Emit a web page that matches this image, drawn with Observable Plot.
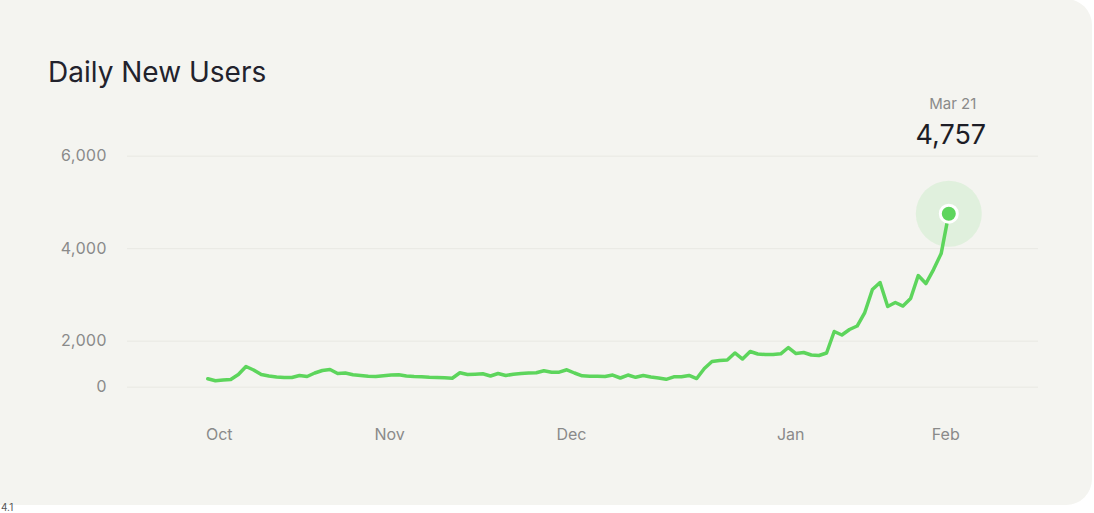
<!DOCTYPE html>
<html><head><meta charset="utf-8">
<script src="https://cdn.jsdelivr.net/npm/d3@7"></script>
<script src="https://cdn.jsdelivr.net/npm/@observablehq/plot@0.6"></script>
<style>
html,body{margin:0;padding:0;background:#fff;width:1094px;height:513px;overflow:hidden;font-family:Inter,"Noto Sans",sans-serif;}
#card{position:absolute;left:-30px;top:-1px;width:1122px;height:506px;background:#f4f4f0;border-radius:26px;}
#title{position:absolute;left:48px;top:58px;font-size:28px;line-height:28px;color:#22222c;font-weight:400;white-space:nowrap;}
#chart{position:absolute;left:0;top:90px;}
#foot{position:absolute;left:1px;top:502px;font-size:10px;line-height:10px;color:#555;}
</style></head><body>
<div id="card"></div>
<div id="title">Daily New Users</div>
<div id="chart"></div>
<div id="foot">4.1</div>
<script>
// Daily new users (one value per point)
const dailyNewUsers = [
  365, 278, 313, 335, 552, 900, 748, 552, 487, 443,
  422, 422, 509, 465, 617, 726, 770, 596, 617, 539,
  509, 474, 465, 496, 530, 539, 487, 465, 457, 435,
  422, 409, 391, 626, 552, 565, 583, 487, 596, 509,
  565, 596, 617, 626, 713, 652, 652, 757, 617, 496,
  478, 474, 465, 530, 400, 530, 430, 509, 443, 400,
  343, 452, 452, 509, 378, 813, 1117, 1161, 1183, 1487,
  1226, 1552, 1444, 1422, 1422, 1452, 1726, 1465, 1509, 1400,
  1378, 1487, 2210, 2134, 2253, 2328, 2620, 3117, 3268, 2750,
  2836, 2760, 2922, 3419, 3246, 3549, 3894, 4757
];
const yTicks = [0, 2000, 4000, 6000];
const monthLabels = ["Oct", "Nov", "Dec", "Jan", "Feb"];
const monthIndex = [1.5, 23.8, 47.6, 76.3, 96.6];
const lastDateLabel = "Mar 21";

const lastIdx = dailyNewUsers.length - 1;
const lastPoint = [{i: lastIdx, v: dailyNewUsers[lastIdx]}];
const green = "#5dd55c";
const grey = "#8a8a8a";

const chart = Plot.plot({
  width: 1094,
  height: 380,
  marginLeft: 127,
  marginRight: 56,
  marginTop: 0,
  marginBottom: 60,
  style: {background: "transparent", color: grey, fontFamily: "Inter, 'Noto Sans', sans-serif", overflow: "visible"},
  x: {type: "linear", domain: [0, lastIdx], range: [207.3, 948.3], axis: null},
  y: {type: "linear", domain: [0, 2000, 6000], range: [296.7, 250.7, 65.7], axis: null},
  marks: [
    Plot.ruleY(yTicks, {stroke: "#e8e8e3", strokeWidth: 1}),
    Plot.axisY(yTicks, {tickSize: 0, tickPadding: 21, fontSize: 16, tickFormat: d3.format(","), label: null}),
    Plot.axisX(monthIndex, {tickSize: 0, tickPadding: 18, fontSize: 16, label: null,
      tickFormat: d => monthLabels[monthIndex.indexOf(d)]}),
    Plot.dot(lastPoint, {x: "i", y: "v", r: 33, fill: green, fillOpacity: 0.13}),
    Plot.lineY(dailyNewUsers, {x: (d, i) => i, y: d => d, stroke: green, strokeWidth: 3.5, strokeLinejoin: "round", strokeLinecap: "round"}),
    Plot.dot(lastPoint, {x: "i", y: "v", r: 8.5, fill: green, stroke: "white", strokeWidth: 3}),
    Plot.text(lastPoint, {x: "i", frameAnchor: "top", dy: 8, dx: 4, text: () => lastDateLabel, fontSize: 15, fill: grey}),
    Plot.text(lastPoint, {x: "i", frameAnchor: "top", dy: 34, dx: 2, text: d => d3.format(",")(d.v), fontSize: 27, fill: "#1d1d26"})
  ]
});
document.getElementById("chart").appendChild(chart);
</script>
</body></html>
